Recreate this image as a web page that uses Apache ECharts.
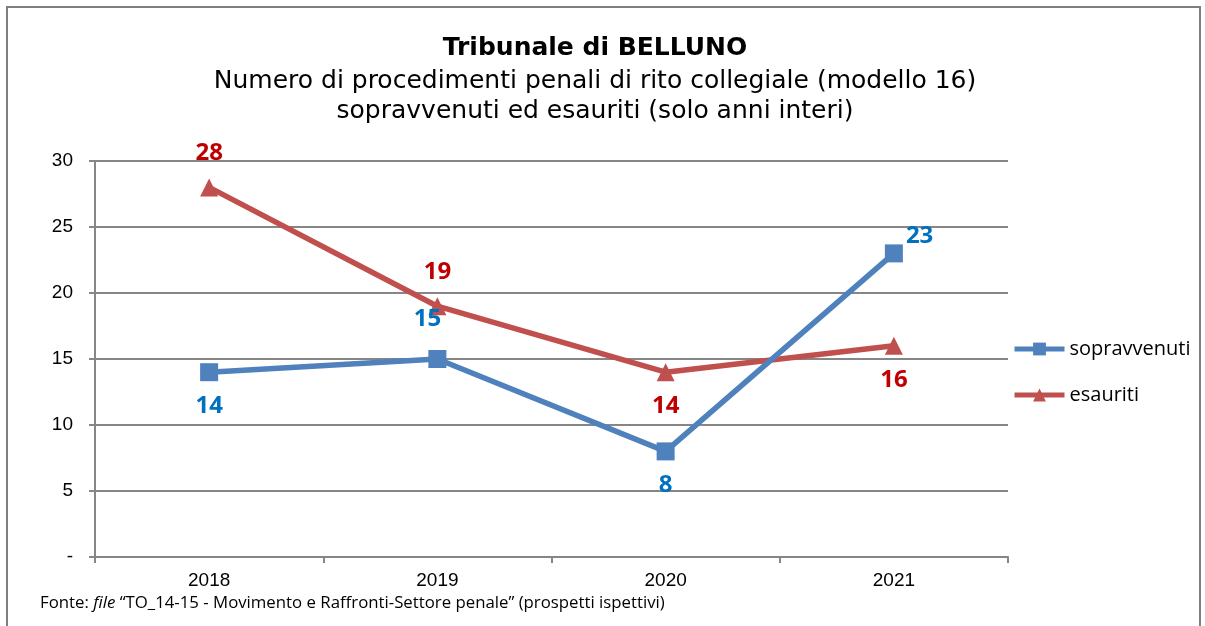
<!DOCTYPE html>
<html>
<head>
<meta charset="utf-8">
<script src="https://cdn.jsdelivr.net/npm/echarts@6/dist/echarts.min.js"></script>
<style>
  html, body { margin: 0; padding: 0; background: #fff; }
  #chart { width: 1205px; height: 626px; }
</style>
</head>
<body>
<div id="chart"></div>
<script>
// dati
const anni = ['2018', '2019', '2020', '2021'];
const sopravvenuti = [14, 15, 8, 23];
const esauriti = [28, 19, 14, 16];
const tickLabels = { 0: '-', 5: '5', 10: '10', 15: '15', 20: '20', 25: '25', 30: '30' };

// posizione delle etichette per punto
const posSopr = [
  { position: 'bottom', distance: 13 },
  { position: 'top', offset: [-10, -14] },
  { position: 'bottom', distance: 13 },
  { position: 'right', offset: [-2, -17] }
];
const posEsau = [
  { position: 'top', distance: 13 },
  { position: 'top', distance: 13 },
  { position: 'bottom', distance: 13 },
  { position: 'bottom', distance: 13 }
];

const chart = echarts.init(document.getElementById('chart'));

const labelBase = { show: true, fontFamily: 'Open Sans', fontWeight: 'bold', fontSize: 24 };

const option = {
  animation: false,
  title: {
    text: 'Tribunale di BELLUNO',
    subtext: 'Numero di procedimenti penali di rito collegiale (modello 16)\nsopravvenuti ed esauriti (solo anni interi)',
    left: 590,
    textAlign: 'center',
    top: 31,
    itemGap: 5,
    textStyle: { fontFamily: 'DejaVu Sans', fontWeight: 'bold', fontSize: 25, color: '#000' },
    subtextStyle: { fontFamily: 'DejaVu Sans', fontSize: 25, color: '#000', lineHeight: 30 }
  },
  legend: {
    orient: 'vertical',
    left: 1012,
    top: 339,
    padding: 0,
    itemWidth: 50,
    itemHeight: 16,
    itemGap: 26,
    lineStyle: { width: 5 },
    textStyle: { fontFamily: 'Open Sans', fontSize: 20, color: '#000' },
    data: ['sopravvenuti', 'esauriti']
  },
  grid: { left: 95, right: 197, top: 161, bottom: 69, containLabel: false },
  xAxis: {
    type: 'category',
    data: anni,
    boundaryGap: true,
    axisLine: { lineStyle: { color: '#868686', width: 2 } },
    axisTick: { show: true, length: 6, lineStyle: { color: '#868686', width: 2 } },
    axisLabel: { fontFamily: 'Liberation Sans', fontSize: 19, color: '#000', margin: 14 }
  },
  yAxis: {
    type: 'value',
    min: 0,
    max: 30,
    interval: 5,
    axisLine: { show: true, lineStyle: { color: '#868686', width: 2 } },
    axisTick: { show: true, length: 6, lineStyle: { color: '#868686', width: 2 } },
    splitLine: { lineStyle: { color: '#868686', width: 2 } },
    axisLabel: {
      fontFamily: 'Liberation Sans', fontSize: 19, color: '#000', margin: 22,
      formatter: v => tickLabels[v]
    }
  },
  series: [
    {
      name: 'sopravvenuti',
      type: 'line',
      symbol: 'rect',
      symbolSize: 18,
      z: 3,
      lineStyle: { color: '#4F81BD', width: 5.5 },
      itemStyle: { color: '#4F81BD' },
      data: sopravvenuti.map((v, i) => ({
        value: v,
        label: Object.assign({}, labelBase, { color: '#0070C0' }, posSopr[i])
      }))
    },
    {
      name: 'esauriti',
      type: 'line',
      symbol: 'triangle',
      symbolSize: 18,
      z: 2,
      lineStyle: { color: '#C0504D', width: 5.5 },
      itemStyle: { color: '#C0504D' },
      data: esauriti.map((v, i) => ({
        value: v,
        label: Object.assign({}, labelBase, { color: '#C00000' }, posEsau[i])
      }))
    }
  ],
  graphic: [
    {
      type: 'rect',
      shape: { x: 7, y: 7, width: 1193, height: 640 },
      style: { fill: 'none', stroke: '#7f7f7f', lineWidth: 2 },
      silent: true
    },
    {
      type: 'text',
      left: 40,
      top: 595,
      style: {
        text: '{n|Fonte: }{i|file}{n| \u201cTO_14-15 - Movimento e Raffronti-Settore penale\u201d (prospetti ispettivi)}',
        rich: {
          n: { fontFamily: 'Open Sans', fontSize: 16.8, fill: '#000' },
          i: { fontFamily: 'Open Sans', fontStyle: 'italic', fontSize: 16.8, fill: '#000' }
        }
      }
    }
  ]
};

chart.setOption(option);
</script>
</body>
</html>
